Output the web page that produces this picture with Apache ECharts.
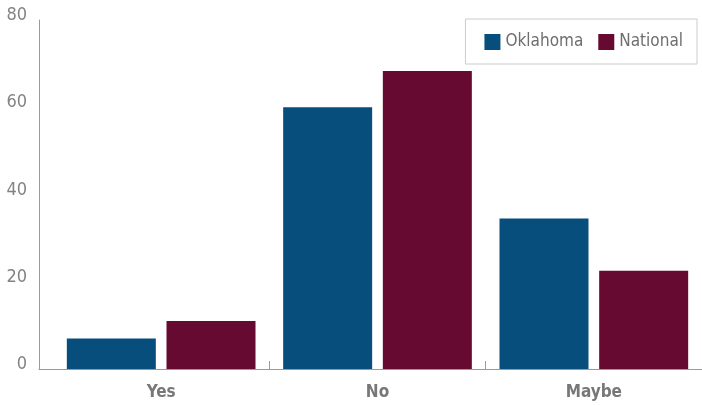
<!DOCTYPE html>
<html>
<head>
<meta charset="utf-8">
<script src="https://cdn.jsdelivr.net/npm/echarts@6/dist/echarts.min.js"></script>
<style>
  html, body { margin: 0; padding: 0; background: #fff; }
  #chart { width: 702px; height: 405px; }
</style>
</head>
<body>
<div id="chart"></div>
<script>
// Survey answers, percent of respondents
const categories = ['Yes', 'No', 'Maybe'];
const oklahoma = [7, 60, 34.5];
const national = [11, 68.3, 22.5];
const seriesNames = ['Oklahoma', 'National'];
const yMin = 0, yMax = 80, yStep = 20;

const FONT = "'DejaVu Sans Condensed', 'DejaVu Sans', sans-serif";
const axisGray = '#9a9a9a';
const textGray = '#777777';

const chart = echarts.init(document.getElementById('chart'), null, { renderer: 'canvas' });

chart.setOption({
  animation: false,
  backgroundColor: '#fff',
  legend: {
    data: seriesNames,
    right: 5,
    top: 19,
    orient: 'horizontal',
    padding: [14, 14, 13, 19],
    itemGap: 15,
    itemWidth: 16,
    itemHeight: 16,
    icon: 'rect',
    borderColor: '#cccccc',
    borderWidth: 1,
    borderRadius: 0,
    textStyle: {
      fontFamily: FONT,
      fontSize: 17,
      fontWeight: 'normal',
      color: '#6e6e6e',
      lineHeight: 18
    }
  },
  grid: [
    // frame for the axis lines and value labels
    { left: 39, right: 0, top: 20, bottom: 36, outerBoundsMode: 'none' },
    // plotting area for the bars
    { left: 53, right: 0, top: 20, bottom: 36, outerBoundsMode: 'none' }
  ],
  xAxis: [
    {
      type: 'category',
      gridIndex: 0,
      data: categories,
      axisLine: { show: true, lineStyle: { color: axisGray, width: 1 } },
      axisTick: { show: false },
      axisLabel: { show: false },
      splitLine: { show: false }
    },
    {
      type: 'category',
      gridIndex: 1,
      data: categories,
      axisLine: { show: false },
      axisTick: {
        show: true,
        inside: true,
        length: 8,
        interval: function (index) { return index !== 0; },
        lineStyle: { color: axisGray, width: 1 }
      },
      axisLabel: {
        interval: 0,
        margin: 15,
        fontFamily: FONT,
        fontSize: 17,
        fontWeight: 'bold',
        color: textGray
      },
      splitLine: { show: false }
    }
  ],
  yAxis: [
    {
      type: 'value',
      gridIndex: 0,
      min: yMin,
      max: yMax,
      interval: yStep,
      axisLine: { show: true, lineStyle: { color: axisGray, width: 1 } },
      axisTick: { show: false },
      splitLine: { show: false },
      axisLabel: {
        margin: 12,
        fontFamily: FONT,
        fontSize: 18,
        color: '#838383',
        verticalAlign: 'bottom',
        lineHeight: 9
      }
    },
    {
      type: 'value',
      gridIndex: 1,
      min: yMin,
      max: yMax,
      interval: yStep,
      show: false
    }
  ],
  series: [
    {
      name: seriesNames[0],
      type: 'bar',
      xAxisIndex: 1,
      yAxisIndex: 1,
      data: oklahoma,
      barWidth: 89,
      barGap: '12%',
      itemStyle: { color: '#074E7C' }
    },
    {
      name: seriesNames[1],
      type: 'bar',
      xAxisIndex: 1,
      yAxisIndex: 1,
      data: national,
      barWidth: 89,
      barGap: '12%',
      itemStyle: { color: '#670A31' }
    }
  ]
});
</script>
</body>
</html>
